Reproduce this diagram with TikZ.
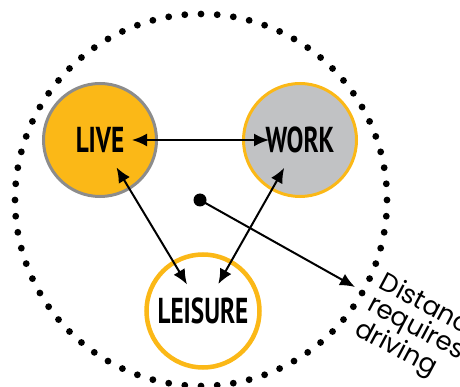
\documentclass[tikz,border=0pt]{standalone}
\usepackage{fontspec}
\setmainfont{PT Sans}
\newfontfamily\notefont{Poppins}
\usetikzlibrary{arrows.meta}
\definecolor{gold}{HTML}{FBB817}
\definecolor{rimgray}{HTML}{8C8C8C}
\definecolor{workgray}{HTML}{C1C2C4}
% condensed bold label
\newcommand{\placelabel}[1]{\scalebox{0.7}[1]{\bfseries #1}}
\begin{document}
\begin{tikzpicture}[x=1pt,y=-1pt,
  place/.style={circle, minimum size=113pt, inner sep=0pt, font=\fontsize{36}{36}\selectfont},
  link/.style={{Latex[length=15pt,width=13pt]}-{Latex[length=15pt,width=13pt]}, line width=2pt, shorten <=32pt, shorten >=31pt}]
\useasboundingbox (0,0) rectangle (460,387);
\clip (0,0) rectangle (460,387);

% Dotted boundary
\foreach \a in {0,5,...,355}
  \fill (201,200) ++(\a:186) circle (3.4pt);

% The three places
\node[place, fill=gold, draw=rimgray, line width=3pt] (live) at (100,140) {\placelabel{LIVE}};
\node[place, fill=workgray, draw=gold, line width=3pt] (work) at (300,140) {\placelabel{WORK}};
\node[place, fill=white, draw=gold, line width=4.5pt] (leisure) at (203,311) {\placelabel{LEISURE}};

% Links between places
\draw[link] (live.center) -- (work.center);
\draw[link] (live.center) -- (leisure.center);
\draw[link] (work.center) -- (leisure.center);

% Centre and driving distance
\node[circle, fill=black, minimum size=13pt, inner sep=0pt] (hub) at (200,200) {};
\coordinate (rim) at (355,287);
\draw[-{Latex[length=15pt,width=13pt]}, line width=2pt] (hub.center) -- (rim);
\node[font=\notefont\fontsize{26}{25}\selectfont, rotate=-28, anchor=north west, align=left, inner sep=0pt] (note) at (387,270) {Distance\\requires\\driving};
\end{tikzpicture}
\end{document}
